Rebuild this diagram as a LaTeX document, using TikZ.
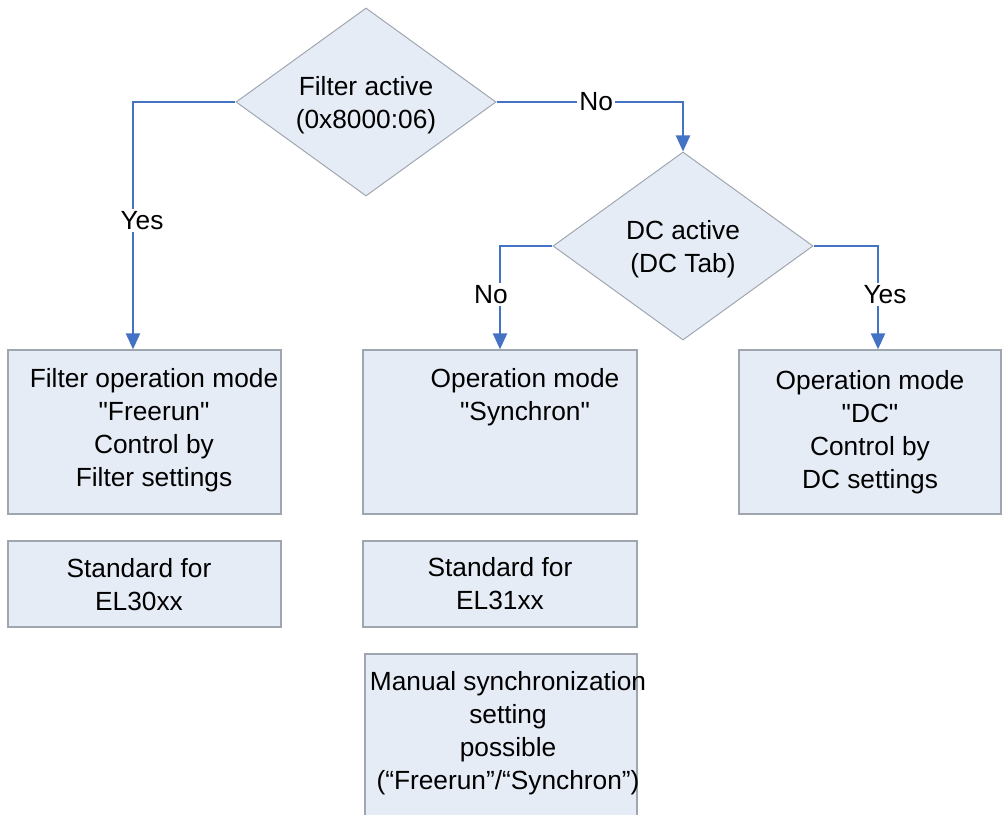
\documentclass[tikz,border=0pt]{standalone}
\usepackage{fontspec}
\setmainfont{Liberation Sans}
\usetikzlibrary{shapes.geometric,arrows.meta}
\definecolor{boxfill}{RGB}{230,236,246}
\definecolor{boxline}{RGB}{160,166,176}
\definecolor{flowblue}{RGB}{68,114,196}

\begin{document}
\begin{tikzpicture}[x=0.025cm, y=-0.025cm,
  mode/.style={draw=boxline, line width=0.9pt, fill=boxfill, align=center, inner sep=0pt},
  dec/.style={draw=boxline, line width=0.7pt, fill=boxfill, diamond, aspect=1.38,
              minimum width=6.5cm, minimum height=4.7cm, inner sep=0pt, align=center},
  flow/.style={draw=flowblue, line width=1.6pt, -{Triangle[length=0.4cm, width=0.35cm]}},
  elbl/.style={fill=white, inner sep=1.5pt},
  font=\fontsize{18.7}{23.5}\selectfont
]
\useasboundingbox (0,0) rectangle (1003,814);
\clip (0,0) rectangle (1003,814);

%% decisions
\node[dec] (filt) at (366,102) {\\[-0.2cm]Filter active\\(0x8000:06)};
\node[dec] (dc)   at (683,246) {\\[-0.2cm]DC active\\(DC Tab)};

%% operation modes
\node[mode, minimum width=6.825cm, minimum height=4.1cm] (free) at (144.5,432) {};
\node[align=center] (freetxt) at (154,430)
  {Filter operation mode\\\textquotedbl Freerun\textquotedbl\\Control by\\Filter settings};
\node[mode, minimum width=6.85cm, minimum height=4.1cm] (sync) at (500,432) {};
\node[align=center] (synctxt) at (525,397) {Operation mode\\\textquotedbl Synchron\textquotedbl};
\node[mode, minimum width=6.55cm, minimum height=4.1cm] (opdc) at (870,432)
  {Operation mode\\\textquotedbl DC\textquotedbl\\Control by\\DC settings};

%% notes below
\node[mode, minimum width=6.825cm, minimum height=2.15cm] (std30) at (144.5,584) {};
\node[align=center] (std30txt) at (139,585) {Standard for\\EL30xx};
\node[mode, minimum width=6.85cm, minimum height=2.15cm] (std31) at (500,584) {Standard for\\EL31xx};
\node[mode, minimum width=6.8cm, minimum height=4.2cm] (manual) at (501,738) {};
\node[align=center] (manualtxt) at (508,733)
  {Manual synchronization\\setting\\possible\\(“Freerun”/“Synchron”)};

%% flow
\draw[flow] (filt.west) -| ([xshift=-0.2875cm]free.north)
  node[elbl, pos=0.74, xshift=0.225cm] {Yes};
\draw[flow] (filt.east) -| (dc.north) node[elbl, pos=0.267] {No};
\draw[flow] (dc.west) -| (sync.north) node[elbl, pos=0.735, xshift=-0.225cm] {No};
\draw[flow] (dc.east) -| ([xshift=0.2cm]opdc.north)
  node[elbl, pos=0.735, xshift=0.175cm] {Yes};

\end{tikzpicture}
\end{document}
